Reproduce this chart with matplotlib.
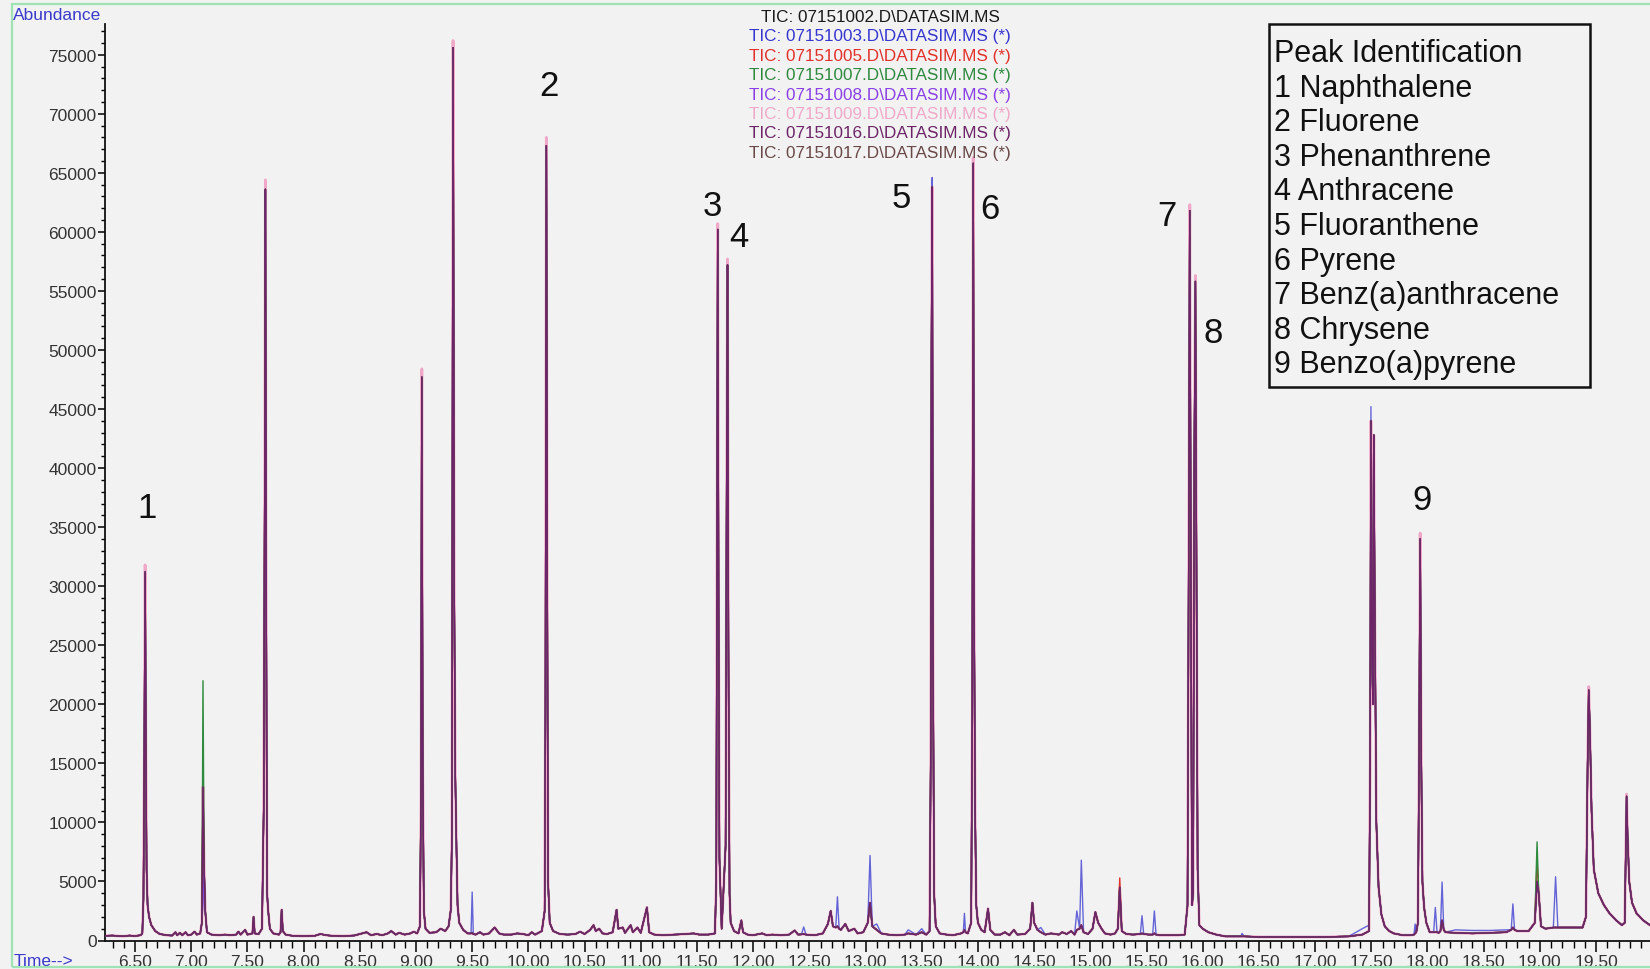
import matplotlib.pyplot as plt
from matplotlib.patches import Rectangle
from matplotlib.ticker import MultipleLocator, FormatStrFormatter

plt.rcParams['font.family'] = ['Liberation Sans', 'DejaVu Sans']

# common TIC trace: (retention time [min], abundance)
trace = [
    (6.24, 400), (6.30, 420), (6.35, 380), (6.40, 360), (6.45, 420), (6.50, 380),
    (6.55, 450), (6.565, 600), (6.575, 3500), (6.583, 16000), (6.59, 31200),
    (6.597, 16000), (6.603, 6000), (6.612, 3000), (6.625, 2000), (6.645, 1300),
    (6.68, 800), (6.72, 550), (6.78, 450), (6.83, 420), (6.86, 700), (6.875, 450),
    (6.90, 650), (6.92, 450), (6.95, 700), (6.97, 450), (7.00, 500), (7.03, 750),
    (7.05, 500), (7.08, 600), (7.095, 1500), (7.105, 13000), (7.115, 6000),
    (7.125, 2500), (7.14, 700), (7.18, 500), (7.25, 450), (7.30, 500), (7.35, 450),
    (7.40, 500), (7.42, 750), (7.44, 500), (7.48, 900), (7.50, 500), (7.545, 600),
    (7.555, 2000), (7.565, 600), (7.60, 550), (7.63, 1000), (7.645, 11000),
    (7.655, 40000), (7.66, 63600), (7.667, 30000), (7.675, 4000), (7.685, 2500),
    (7.70, 1000), (7.73, 600), (7.78, 500), (7.795, 700), (7.805, 2600),
    (7.815, 800), (7.84, 500), (7.90, 400), (8.00, 380), (8.10, 400), (8.15, 550),
    (8.20, 450), (8.25, 400), (8.35, 380), (8.45, 420), (8.52, 600), (8.56, 700),
    (8.60, 450), (8.65, 550), (8.70, 450), (8.75, 600), (8.78, 800), (8.82, 500),
    (8.85, 650), (8.90, 500), (8.95, 600), (8.98, 750), (9.01, 600), (9.035, 1200),
    (9.045, 12000), (9.052, 47700), (9.06, 15000), (9.07, 2500), (9.085, 1000),
    (9.12, 650), (9.18, 700), (9.22, 1000), (9.26, 800), (9.29, 1200), (9.31, 2600),
    (9.32, 9000), (9.33, 75600), (9.34, 30000), (9.35, 13800), (9.36, 8000),
    (9.37, 3000), (9.385, 1500), (9.42, 900), (9.46, 600), (9.49, 600),
    (9.50, 650), (9.51, 550), (9.53, 500),
    (9.57, 700), (9.60, 500), (9.65, 600), (9.70, 1100), (9.74, 600), (9.78, 500),
    (9.85, 500), (9.90, 600), (9.95, 550), (10.00, 450), (10.03, 700), (10.06, 500),
    (10.09, 650), (10.12, 800), (10.145, 2500), (10.152, 20000), (10.16, 67300),
    (10.168, 30000), (10.175, 5000), (10.19, 1500), (10.22, 800), (10.28, 550),
    (10.35, 500), (10.42, 550), (10.46, 750), (10.50, 550), (10.55, 900),
    (10.58, 1300), (10.60, 800), (10.63, 1000), (10.66, 600), (10.70, 550),
    (10.75, 700), (10.785, 2600), (10.80, 1000), (10.84, 1100), (10.86, 650),
    (10.91, 1300), (10.93, 700), (10.97, 1100), (11.00, 650), (11.055, 2800),
    (11.075, 700), (11.12, 500), (11.20, 450), (11.30, 500), (11.40, 550),
    (11.47, 600), (11.52, 500), (11.60, 500), (11.66, 600), (11.672, 5000),
    (11.68, 40000), (11.685, 60200), (11.692, 30000), (11.70, 7000), (11.72, 1000),
    (11.755, 8000), (11.765, 40000), (11.772, 57200), (11.78, 25000), (11.79, 4000),
    (11.80, 1500), (11.83, 800), (11.87, 600), (11.895, 1700), (11.91, 700),
    (11.95, 500), (12.00, 450), (12.08, 600), (12.12, 450), (12.17, 500),
    (12.25, 450), (12.32, 500), (12.37, 850), (12.40, 500), (12.43, 520),
    (12.45, 550), (12.47, 500),
    (12.55, 450), (12.62, 600), (12.665, 1400), (12.69, 2500), (12.71, 1200),
    (12.735, 1100), (12.75, 1200), (12.765, 1000), (12.78, 900), (12.82, 1400),
    (12.85, 800), (12.90, 1000),
    (12.93, 600), (12.98, 700), (13.02, 1500), (13.04, 3200), (13.06, 1200),
    (13.10, 900), (13.14, 600), (13.20, 500), (13.28, 450), (13.35, 500),
    (13.38, 600), (13.45, 500), (13.50, 700), (13.54, 500), (13.57, 800),
    (13.58, 15000), (13.587, 50000), (13.593, 63800), (13.60, 25000), (13.61, 4000),
    (13.625, 1200), (13.66, 600), (13.72, 500), (13.78, 450), (13.85, 600),
    (13.87, 700), (13.88, 900), (13.89, 700), (13.91, 600), (13.94, 1500),
    (13.95, 20000), (13.958, 65800),
    (13.965, 30000), (13.975, 11000), (13.985, 3000), (14.00, 1500), (14.03, 900),
    (14.06, 700), (14.09, 2700), (14.11, 900), (14.15, 500), (14.20, 500),
    (14.24, 700), (14.28, 450), (14.32, 900), (14.35, 500), (14.42, 550),
    (14.465, 1000), (14.485, 3200), (14.50, 1500), (14.53, 900), (14.56, 700),
    (14.60, 500), (14.65, 600), (14.72, 500), (14.75, 700), (14.79, 550),
    (14.83, 800), (14.86, 500), (14.88, 900), (14.905, 1000), (14.92, 1300),
    (14.94, 700),
    (14.98, 550), (15.02, 1000), (15.045, 2400), (15.07, 1500), (15.10, 1000),
    (15.13, 600), (15.18, 500), (15.22, 600), (15.245, 1000), (15.262, 4500),
    (15.28, 800), (15.32, 550), (15.38, 500), (15.445, 550), (15.46, 600),
    (15.475, 550), (15.52, 500), (15.555, 500),
    (15.57, 600), (15.585, 500), (15.62, 450), (15.70, 450), (15.78, 450),
    (15.84, 500),
    (15.865, 3000), (15.875, 30000), (15.885, 61800), (15.895, 30000),
    (15.905, 3000), (15.915, 4000), (15.925, 40000), (15.935, 55800),
    (15.945, 30000), (15.955, 6000), (15.97, 1300), (16.00, 1000), (16.05, 700),
    (16.12, 500), (16.20, 350), (16.34, 350), (16.35, 350), (16.37, 350),
    (16.50, 300), (16.70, 300),
    (16.90, 300), (17.10, 300), (17.30, 350), (17.42, 500), (17.48, 800),
    (17.49, 15000), (17.497, 44000), (17.505, 25000), (17.515, 20000),
    (17.522, 42800), (17.53, 30000), (17.545, 10000), (17.565, 4500),
    (17.59, 2200), (17.62, 1200), (17.66, 800), (17.70, 600), (17.78, 450),
    (17.85, 450), (17.88, 500), (17.89, 600), (17.9, 700), (17.915, 1500),
    (17.925, 15000), (17.935, 34000),
    (17.945, 15000), (17.955, 5000), (17.97, 2800), (17.99, 1500), (18.02, 700),
    (18.055, 700), (18.07, 700), (18.085, 700), (18.10, 650), (18.115, 800),
    (18.13, 1700), (18.145, 900), (18.16, 700), (18.25, 650),
    (18.40, 600), (18.55, 650), (18.70, 700), (18.745, 900), (18.76, 1100),
    (18.775, 900), (18.80, 800),
    (18.90, 800), (18.955, 1500), (18.975, 5000), (18.99, 4000), (19.01, 1200),
    (19.05, 1000), (19.12, 1100), (19.14, 1100), (19.16, 1100), (19.25, 1100),
    (19.38, 1100), (19.41, 2000),
    (19.425, 15000), (19.435, 21200), (19.445, 18000), (19.46, 11000),
    (19.48, 6000), (19.52, 4000), (19.57, 3000), (19.62, 2300), (19.68, 1700),
    (19.73, 1300), (19.755, 1500), (19.765, 8000), (19.772, 12200), (19.78, 9000),
    (19.795, 5000), (19.82, 3200), (19.86, 2300), (19.92, 1700), (19.98, 1300),
]
rt = [p[0] for p in trace]
tic_base = [p[1] for p in trace]

runs = ["07151002", "07151003", "07151005", "07151007",
        "07151008", "07151009", "07151016", "07151017"]
run_colors = ["#1a1a1a", "#3535d0", "#e3302a", "#2e8a3e",
              "#8a40e6", "#f0a8c8", "#6e2468", "#6a4848"]

# points where a run differs from the common trace {rt: abundance}
dev_1002 = {7.105: 13500}
dev_1003 = {9.50: 4100, 12.45: 1150, 12.75: 3700, 13.04: 7200, 13.10: 1400,
            13.38: 900, 13.50: 1000, 13.88: 2300, 14.56: 1100, 14.88: 2500,
            14.92: 6800, 15.46: 2100, 15.57: 2500, 16.35: 600, 17.42: 1000,
            17.48: 1300, 17.89: 1400, 18.07: 2800, 18.13: 4950, 18.25: 900,
            18.40: 850, 18.55: 850, 18.70: 900, 18.76: 3100, 19.14: 5400,
            13.593: 64600, 17.497: 45200, 7.105: 3400}
dev_1005 = {15.262: 5300, 18.975: 6800}
dev_1007 = {7.105: 22000, 18.975: 8350}
dev_1008 = {7.105: 3400}
dev_1009 = {6.59: 31800, 7.66: 64400, 9.052: 48400, 9.33: 76200, 10.16: 68000,
            11.685: 60700, 11.772: 57700, 13.958: 66300, 15.885: 62300,
            15.935: 56300, 17.935: 34500, 19.435: 21500, 19.772: 12400}
dev_1016 = {}
dev_1017 = {}
run_devs = [dev_1002, dev_1003, dev_1005, dev_1007,
            dev_1008, dev_1009, dev_1016, dev_1017]

peak_ids = ["1", "2", "3", "4", "5", "6", "7", "8", "9"]
compounds = ["Naphthalene", "Fluorene", "Phenanthrene", "Anthracene",
             "Fluoranthene", "Pyrene", "Benz(a)anthracene", "Chrysene",
             "Benzo(a)pyrene"]
label_rt = [6.61, 10.18, 11.64, 11.87, 13.32, 14.11, 15.68, 16.09, 17.95]
label_ab = [36700, 72400, 62200, 59600, 62950, 61940, 61350, 51440, 37300]

W, H = 1650, 970
bg = "#f2f2f2"
fig = plt.figure(figsize=(W / 100, H / 100), dpi=100, facecolor=bg)
ax = fig.add_axes([105 / W, 28.5 / H, (W - 105) / W, 916.5 / H])
ax.set_facecolor(bg)

# pink run drawn wide underneath, dark purple run on top
order = [5, 0, 1, 2, 3, 4, 7, 6]
for i in order:
    vals = [run_devs[i].get(t, a) for t, a in zip(rt, tic_base)]
    lw = 2.0 if i == 5 else 1.0
    alpha = 0.75 if i in (1, 4) else 1.0
    ax.plot(rt, vals, color=run_colors[i], lw=lw, alpha=alpha,
            zorder=2 + order.index(i))

ax.set_xlim(6.233, 19.98)
ax.set_ylim(0, 77600)
for s in ["top", "right"]:
    ax.spines[s].set_visible(False)
for s in ["left", "bottom"]:
    ax.spines[s].set_linewidth(1.3)
    ax.spines[s].set_color("#111111")

ax.xaxis.set_major_locator(MultipleLocator(0.5))
ax.xaxis.set_minor_locator(MultipleLocator(0.1))
ax.xaxis.set_major_formatter(FormatStrFormatter("%.2f"))
ax.yaxis.set_major_locator(MultipleLocator(5000))
ax.yaxis.set_minor_locator(MultipleLocator(1000))
ax.yaxis.set_major_formatter(FormatStrFormatter("%d"))
ax.tick_params(axis="x", which="major", length=8, width=1.1, pad=2,
               labelsize=12.5, labelcolor="#333333")
ax.tick_params(axis="x", which="minor", length=5, width=1.0)
ax.tick_params(axis="y", which="major", length=5, width=1.1, pad=1,
               labelsize=12.5, labelcolor="#333333")
ax.tick_params(axis="y", which="minor", length=3, width=1.0)

for pid, t, a in zip(peak_ids, label_rt, label_ab):
    ax.text(t, a, pid, fontsize=25, ha="center", va="center", color="#111111",
            zorder=20)

# run headers at the top centre
for i, (run, c) in enumerate(zip(runs, run_colors)):
    txt = "TIC: " + run + ".D\\DATASIM.MS" + (" (*)" if i else "")
    fig.text(880 / W, 1 - (17.5 + 19.4 * i) / H, txt, color=c, fontsize=12.3,
             ha="center", va="center")

# peak identification box
fig.add_artist(Rectangle((1269 / W, 1 - 388 / H), 321 / W, 363 / H,
                         transform=fig.transFigure, facecolor=bg,
                         edgecolor="#111111", lw=1.8, zorder=30))
box_lines = ["Peak Identification"] + [p + " " + c for p, c in zip(peak_ids, compounds)]
for j, line in enumerate(box_lines):
    fig.text(1274 / W, 1 - (54 + 34.6 * j) / H, line, fontsize=22,
             ha="left", va="center", color="#111111", zorder=31)

fig.text(13 / W, 1 - 16 / H, "Abundance", color="#3a3acc", fontsize=12.5,
         ha="left", va="center")
fig.text(14 / W, 1 - 962 / H, "Time-->", color="#3a3acc", fontsize=12.5,
         ha="left", va="center")

# thin green frame around the whole plot
fig.add_artist(Rectangle((12 / W, 2 / H), (W + 10 - 12) / W, 963 / H,
                         transform=fig.transFigure, fill=False,
                         edgecolor="#9fe3b4", lw=1.6, clip_on=False))

fig.savefig("out.png", dpi=100, facecolor=bg)
